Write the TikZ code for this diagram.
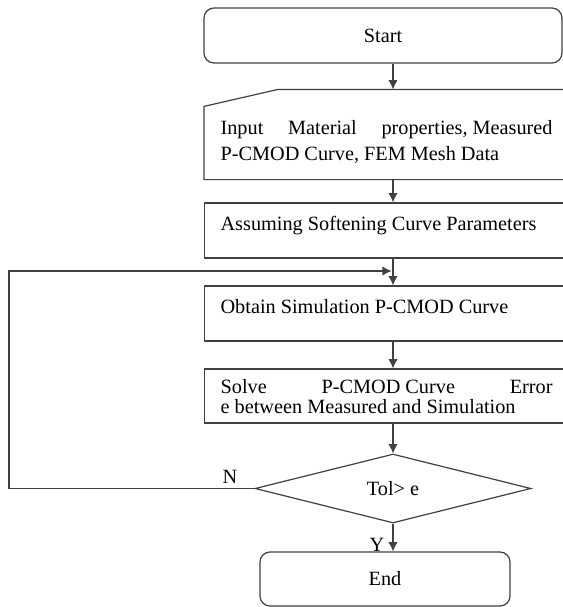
\documentclass[tikz,border=0pt]{standalone}
\usepackage{fontspec}
\setmainfont{Liberation Serif}
\usetikzlibrary{shapes.geometric,arrows.meta}

\colorlet{edge}{black!75}

\begin{document}
\begin{tikzpicture}[x=0.75pt, y=-0.75pt,
  every node/.style={font=\fontsize{15.2}{19.5}\selectfont},
  box/.style={rectangle, draw=edge, line width=0.9pt, anchor=west,
    text width=249pt, inner xsep=12pt, align=justify,
    text height=10pt, text depth=10pt, minimum height=41.25pt},
  inbox/.style={box, draw=none},
  boxround/.style={rectangle, rounded corners=7.5pt, draw=edge,
    line width=0.9pt},
  decision/.style={diamond, draw=edge, line width=0.9pt,
    minimum width=207pt, minimum height=51.75pt, inner sep=0pt},
  arrow/.style={-{Latex[length=7pt,width=7pt]}, draw=edge, line width=0.9pt},
  outline/.style={draw=edge, line width=0.9pt},
  lbl/.style={inner sep=0pt},
]
\useasboundingbox (0,0) rectangle (563,607);
\clip (0,0) rectangle (563,607);

\node[boxround, minimum width=268.5pt, minimum height=41.25pt] (start)
  at (383,35.5) {Start};

\node[inbox, minimum height=66.75pt] (input) at (204,134.5)
  {Input\hfill Material\hfill properties, Measured\\
   P-CMOD Curve, FEM Mesh Data};
\draw[outline] (input.south west) -- ([yshift=-12.75pt]input.north west)
  -- ([xshift=55.5pt]input.north west) -- (input.north east)
  -- (input.south east) -- cycle;

\node[box] (assume) at (204,230.5) {Assuming Softening Curve Parameters};
\node[box] (obtain) at (204,313.5) {Obtain Simulation P-CMOD Curve};
\node[box, minimum height=40.5pt, text depth=14.5pt,
  font=\fontsize{15.2}{15}\selectfont] (solve) at (204,396)
  {Solve\hfill P-CMOD Curve\hfill Error\\
   e between Measured and Simulation};

\node[decision] (dec) at (393,488.5) {Tol> e};

\node[boxround, minimum width=187.5pt, minimum height=40.5pt] (stop)
  at (385,579) {End};

\coordinate (loop) at (9,271);
\node[lbl] (no) at (230,477) {N};
\node[lbl] (yes) at (377,545) {Y};

\draw[arrow] (start.south -| dec.north) -- (input.north -| dec.north);
\draw[arrow] (input.south -| dec.north) -- (assume.north -| dec.north);
\draw[arrow] (assume.south -| dec.north) -- (obtain.north -| dec.north);
\draw[arrow] (obtain.south -| dec.north) -- (solve.north -| dec.north);
\draw[arrow] (solve.south -| dec.north) -- (dec.north);
\draw[arrow] (dec.south) -- (stop.north -| dec.south);
\draw[arrow, shorten >=1pt] (dec.west) -- (dec.west -| loop) -- (loop)
  -- (loop -| dec.north);

\end{tikzpicture}
\end{document}
